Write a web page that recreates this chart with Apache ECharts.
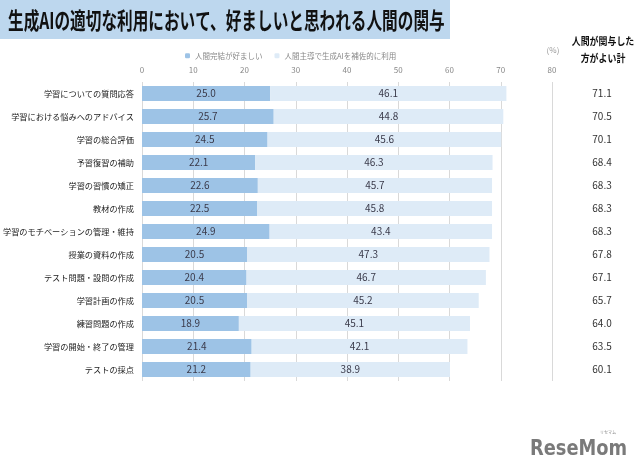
<!DOCTYPE html>
<html><head><meta charset="utf-8">
<script src="https://cdn.jsdelivr.net/npm/echarts@6/dist/echarts.min.js"></script>
<style>html,body{margin:0;padding:0;background:#fff}#c{width:640px;height:472px}</style>
</head><body><div id="c"></div>
<script>
const categories = ['学習についての質問応答','学習における悩みへのアドバイス','学習の総合評価','予習復習の補助','学習の習慣の矯正','教材の作成','学習のモチベーションの管理・維持','授業の資料の作成','テスト問題・設問の作成','学習計画の作成','練習問題の作成','学習の開始・終了の管理','テストの採点'];
const humanOnly = [25.0,25.7,24.5,22.1,22.6,22.5,24.9,20.5,20.4,20.5,18.9,21.4,21.2];
const humanLedAI = [46.1,44.8,45.6,46.3,45.7,45.8,43.4,47.3,46.7,45.2,45.1,42.1,38.9];
const totals = ['71.1','70.5','70.1','68.4','68.3','68.3','68.3','67.8','67.1','65.7','64.0','63.5','60.1'];
const seriesNames = ['人間完結が好ましい','人間主導で生成AIを補佐的に利用'];
const titleText = '生成AIの適切な利用において、好ましいと思われる人間の関与';
const totalHeader = ['人間が関与した','方がよい計'];

const F = "'Noto Sans CJK JP', sans-serif";
const chart = echarts.init(document.getElementById('c'));
chart.setOption({
  animation: false,
  textStyle: {fontFamily: F},
  graphic: [
    {type:'rect', shape:{x:0,y:0,width:450,height:39}, style:{fill:'#bdd7ee'}, z:0},
    {type:'text', x:8, y:20, scaleX:0.68, style:{text:titleText, font:"bold 23px "+F, fill:'#111', textVerticalAlign:'middle'}},
    {type:'text', x:603, y:41, scaleX:0.85, style:{text:totalHeader[0], font:"bold 10.5px "+F, fill:'#111', textAlign:'center', textVerticalAlign:'middle'}},
    {type:'text', x:603, y:58, scaleX:0.85, style:{text:totalHeader[1], font:"bold 10.5px "+F, fill:'#111', textAlign:'center', textVerticalAlign:'middle'}},
    {type:'text', x:553, y:50, style:{text:'(%)', font:"8px "+F, fill:'#999', textAlign:'center', textVerticalAlign:'middle'}},
    {type:'text', x:608, y:432, style:{text:'リセマム', font:"4px "+F, fill:'#888', textAlign:'center', textVerticalAlign:'middle'}},
    {type:'text', x:530, y:450, scaleX:0.85, style:{text:'ReseMom', font:"bold 21px 'DejaVu Sans', sans-serif", fill:'#7a7a7a', textVerticalAlign:'middle'}}
  ],
  legend: {
    top: 47, left: 180, itemWidth: 5, itemHeight: 5, itemGap: 12,
    textStyle: {fontSize: 7.5, color: '#888', fontFamily: F},
    data: seriesNames
  },
  grid: {left: 142, right: 88, top: 82, bottom: 91, outerBoundsMode: 'none', containLabel: false},
  xAxis: {
    type: 'value', position: 'top', min: 0, max: 80, interval: 10,
    axisLine: {show:false}, axisTick: {show:false},
    axisLabel: {fontSize: 8, color: '#888', margin: 8},
    splitLine: {lineStyle: {color: '#d9d9d9', width: 1}}
  },
  yAxis: [
    {type: 'category', data: categories, inverse: true,
     axisLine: {show:false}, axisTick: {show:false},
     axisLabel: {fontSize: 8.2, color: '#222', margin: 8}},
    {type: 'category', data: totals, inverse: true, position: 'right',
     axisLine: {show:false}, axisTick: {show:false},
     axisLabel: {fontSize: 10, color: '#333', margin: 50, align: 'center'}}
  ],
  series: [
    {name: seriesNames[0], type: 'bar', stack: 's', data: humanOnly, barWidth: 15,
     itemStyle: {color: '#9dc3e6'},
     label: {show: true, position: 'inside', color: '#3a3a4a', fontSize: 10, formatter: p => p.value.toFixed(1)}},
    {name: seriesNames[1], type: 'bar', stack: 's', data: humanLedAI, barWidth: 15,
     itemStyle: {color: '#deebf7'},
     label: {show: true, position: 'inside', color: '#3a3a4a', fontSize: 10, formatter: p => p.value.toFixed(1)}}
  ]
});
</script></body></html>
